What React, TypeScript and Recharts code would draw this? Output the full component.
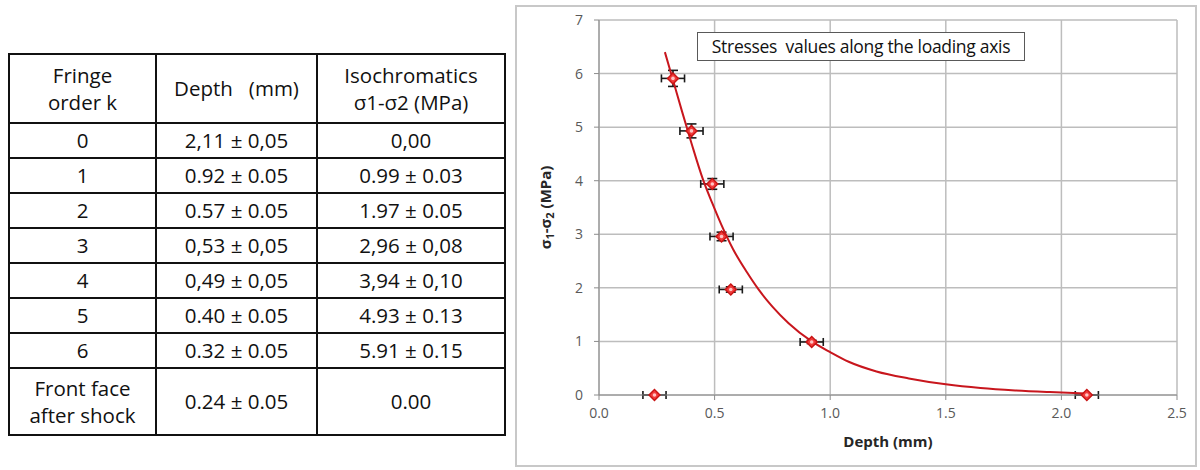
import React from "react";
import {
  CartesianGrid,
  ErrorBar,
  Scatter,
  ScatterChart,
  XAxis,
  YAxis
} from "recharts";

// measured points (table + chart)
const fringeLabels = ["0", "1", "2", "3", "4", "5", "6", "Front face\nafter shock"];
const depths = [2.11, 0.92, 0.57, 0.53, 0.49, 0.4, 0.32, 0.24];
const depthErrors = [0.05, 0.05, 0.05, 0.05, 0.05, 0.05, 0.05, 0.05];
const stresses = [0, 0.99, 1.97, 2.96, 3.94, 4.93, 5.91, 0];
const stressErrors = [0, 0.03, 0.05, 0.08, 0.1, 0.13, 0.15, 0];
const decimalSeps = [",", ".", ".", ",", ",", ".", ".", "."];

// fitted curve
const fitDepths = [
  0.285, 0.32, 0.36, 0.4, 0.45, 0.49, 0.53, 0.58, 0.64, 0.69, 0.75, 0.82, 0.92, 1.0, 1.08,
  1.2, 1.34, 1.5, 1.65, 1.8, 1.95, 2.11
];
const fitStresses = [
  6.4, 5.88, 5.28, 4.7, 4.02, 3.58, 3.17, 2.72, 2.29, 1.97, 1.65, 1.34, 1.0, 0.8, 0.62,
  0.44, 0.31, 0.2, 0.13, 0.085, 0.055, 0.03
];

const xTicks = [0, 0.5, 1, 1.5, 2, 2.5];
const yTicks = [0, 1, 2, 3, 4, 5, 6, 7];

const FONT = "'Open Sans', 'Noto Sans', sans-serif";

const points = depths.map((d, i) => ({
  x: d,
  y: stresses[i],
  ex: depthErrors[i],
  ey: stressErrors[i]
}));
const fitCurve = fitDepths.map((d, i) => ({ x: d, y: fitStresses[i] }));

const fmt = (v: number, sep: string) => v.toFixed(2).replace(".", sep);

const Diamond = (props: any) => {
  const { cx, cy } = props;
  const r = 5.5;
  return (
    <g>
      <polygon
        points={`${cx},${cy - r} ${cx + r},${cy} ${cx},${cy + r} ${cx - r},${cy}`}
        fill="#f23a3a"
        stroke="#c81414"
        strokeWidth={1.4}
      />
      <circle cx={cx} cy={cy} r={1.8} fill="#ffc4c4" />
    </g>
  );
};

const NoDot = () => <g />;

const YLabel = (props: any) => {
  const { viewBox } = props;
  const x = viewBox.x - 8;
  const y = viewBox.y + viewBox.height / 2;
  return (
    <text
      transform={`translate(${x},${y}) rotate(-90)`}
      textAnchor="middle"
      fontFamily={FONT}
      fontWeight="bold"
      fontSize={15}
      fill="#262626"
    >
      σ<tspan dy={3} fontSize={11}>1</tspan>
      <tspan dy={-3}>-σ</tspan>
      <tspan dy={3} fontSize={11}>2</tspan>
      <tspan dy={-3}> (MPa)</tspan>
    </text>
  );
};

const cellStyle: React.CSSProperties = {
  border: "2px solid #111",
  textAlign: "center",
  padding: 0,
  lineHeight: "27px"
};

export default function App() {
  return (
    <div
      style={{
        position: "absolute",
        left: 0,
        top: 0,
        width: 1200,
        height: 470,
        background: "#fff",
        fontFamily: FONT,
        color: "#111"
      }}
    >
      <table
        style={{
          position: "absolute",
          left: 8,
          top: 53,
          width: 496,
          borderCollapse: "collapse",
          fontSize: 20.5,
          tableLayout: "fixed"
        }}
      >
        <colgroup>
          <col style={{ width: 147 }} />
          <col style={{ width: 161 }} />
          <col style={{ width: 188 }} />
        </colgroup>
        <thead>
          <tr style={{ height: 69 }}>
            <th style={{ ...cellStyle, fontWeight: "normal" }}>
              Fringe
              <br />
              order k
            </th>
            <th style={{ ...cellStyle, fontWeight: "normal", whiteSpace: "pre" }}>Depth   (mm)</th>
            <th style={{ ...cellStyle, fontWeight: "normal" }}>
              Isochromatics
              <br />
              σ1-σ2 (MPa)
            </th>
          </tr>
        </thead>
        <tbody>
          {fringeLabels.map((label, i) => {
            const sep = decimalSeps[i];
            const last = i === fringeLabels.length - 1;
            return (
              <tr key={i} style={{ height: last ? 67 : 35 }}>
                <td style={{ ...cellStyle, whiteSpace: "pre-line" }}>{label}</td>
                <td style={cellStyle}>
                  {fmt(depths[i], sep)} ± {fmt(depthErrors[i], sep)}
                </td>
                <td style={cellStyle}>
                  {stressErrors[i] > 0
                    ? `${fmt(stresses[i], sep)} ± ${fmt(stressErrors[i], sep)}`
                    : fmt(stresses[i], sep)}
                </td>
              </tr>
            );
          })}
        </tbody>
      </table>

      <div
        style={{
          position: "absolute",
          left: 515,
          top: 5,
          width: 678,
          height: 458,
          border: "2px solid #c8c8c8"
        }}
      />

      <div style={{ position: "absolute", left: 515, top: 5 }}>
        <ScatterChart
          width={680}
          height={460}
          margin={{ top: 15, right: 18, bottom: 15, left: 44 }}
        >
          <CartesianGrid stroke="#bdbdbd" strokeWidth={1.5} />
          <XAxis
            type="number"
            dataKey="x"
            domain={[0, 2.5]}
            ticks={xTicks}
            tickFormatter={(v: number) => v.toFixed(1)}
            stroke="#8c8c8c"
            tickSize={5}
            tickMargin={8}
            height={55}
            tick={{ fontSize: 14, fill: "#595959", fontFamily: FONT }}
            label={{
              value: "Depth (mm)",
              position: "insideBottom",
              offset: 3,
              style: { fontFamily: FONT, fontWeight: "bold", fontSize: 15, fill: "#262626" }
            }}
          />
          <YAxis
            type="number"
            dataKey="y"
            domain={[0, 7]}
            ticks={yTicks}
            stroke="#8c8c8c"
            tickSize={5}
            tickMargin={11}
            width={40}
            tick={{ fontSize: 14, fill: "#595959", fontFamily: FONT }}
            label={{ content: YLabel }}
          />
          <Scatter
            data={fitCurve}
            line={{ stroke: "#c8161d", strokeWidth: 2 }}
            lineJointType="monotoneX"
            shape={NoDot}
            isAnimationActive={false}
          />
          <Scatter data={points} shape={Diamond} isAnimationActive={false}>
            <ErrorBar dataKey="ex" direction="x" width={4} stroke="#1a1a1a" strokeWidth={1.6} />
            <ErrorBar dataKey="ey" direction="y" width={5} stroke="#1a1a1a" strokeWidth={1.6} />
          </Scatter>
        </ScatterChart>
      </div>

      <div
        style={{
          position: "absolute",
          left: 697,
          top: 32,
          width: 326,
          height: 27,
          border: "1px solid #595959",
          background: "#fff",
          fontSize: 17.5,
          lineHeight: "27px",
          textAlign: "center",
          color: "#111",
          whiteSpace: "pre",
          letterSpacing: -0.3
        }}
      >
        Stresses  values along the loading axis
      </div>
    </div>
  );
}
